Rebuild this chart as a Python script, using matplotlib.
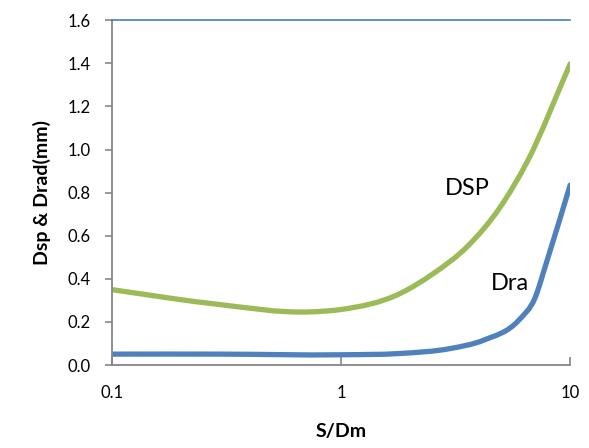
import matplotlib
matplotlib.use("Agg")
import matplotlib.pyplot as plt
import numpy as np
from matplotlib.path import Path
from matplotlib.patches import PathPatch
from matplotlib.ticker import FixedLocator, FixedFormatter, NullLocator

plt.rcParams['font.family'] = ['Lato', 'DejaVu Sans']

# Data
dsp_x = [0.1, 0.27, 0.74, 1.0, 1.81, 2.53, 3.55, 4.96, 6.49, 10.0]
dsp_y = [0.35, 0.286, 0.247, 0.258, 0.332, 0.425, 0.549, 0.734, 0.943, 1.397]

dra_x = [0.1, 0.3, 1.0, 1.81, 3.0, 4.2, 6.0, 7.0, 7.94, 10.0]
dra_y = [0.051, 0.051, 0.048, 0.054, 0.077, 0.116, 0.211, 0.308, 0.487, 0.835]

xticks = [0.1, 1, 10]
xtick_labels = ["0.1", "1", "10"]
yticks = [0.0, 0.2, 0.4, 0.6, 0.8, 1.0, 1.2, 1.4, 1.6]
ytick_labels = ["0.0", "0.2", "0.4", "0.6", "0.8", "1.0", "1.2", "1.4", "1.6"]


def smooth_path(xs, ys):
    """Smoothed line style: cubic Bezier (Hermite) segments passing through the
    data points; tangents estimated in log-x space. Data are not altered."""
    lx = np.log10(np.asarray(xs, float))
    y = np.asarray(ys, float)
    n = len(lx)
    h = np.diff(lx)
    d = np.diff(y) / h
    m = np.empty(n)
    m[0] = d[0]
    m[-1] = d[-1]
    for i in range(1, n - 1):
        m[i] = (d[i - 1] * h[i] + d[i] * h[i - 1]) / (h[i - 1] + h[i])
    verts = [(lx[0], y[0])]
    codes = [Path.MOVETO]
    for i in range(n - 1):
        hh = h[i] / 3.0
        verts += [(lx[i] + hh, y[i] + m[i] * hh),
                  (lx[i + 1] - hh, y[i + 1] - m[i + 1] * hh),
                  (lx[i + 1], y[i + 1])]
        codes += [Path.CURVE4] * 3
    V = np.array(verts)
    V[:, 0] = 10 ** V[:, 0]
    return Path(V, codes)


fig = plt.figure(figsize=(5.89, 4.48), dpi=100)
ax = fig.add_axes([0.190, 0.185, 0.778, 0.770])

green = "#9bbb59"
blue = "#4f81bd"
ax.set_xscale('log')
ax.add_patch(PathPatch(smooth_path(dsp_x, dsp_y), fill=False, edgecolor=green, lw=3.8,
                       capstyle='round', joinstyle='round'))
ax.add_patch(PathPatch(smooth_path(dra_x, dra_y), fill=False, edgecolor=blue, lw=3.8,
                       capstyle='round', joinstyle='round'))

ax.set_xlim(0.1, 10)
ax.set_ylim(0, 1.6)
ax.xaxis.set_major_locator(FixedLocator(xticks))
ax.xaxis.set_major_formatter(FixedFormatter(xtick_labels))
ax.xaxis.set_minor_locator(NullLocator())
ax.set_yticks(yticks)
ax.set_yticklabels(ytick_labels)

for s in ['left', 'bottom']:
    ax.spines[s].set_color('#868686')
    ax.spines[s].set_linewidth(1.3)
ax.spines['right'].set_visible(False)
ax.spines['top'].set_color('#4a7ebb')
ax.spines['top'].set_linewidth(1.2)

ax.tick_params(axis='y', direction='out', length=5, width=1.2, color='#868686',
               labelsize=12, pad=10)
ax.tick_params(axis='x', direction='in', length=6, width=1.2, color='#868686',
               labelsize=12, pad=14)

ax.set_xlabel("S/Dm", fontsize=14, fontweight='bold', labelpad=16)
ax.set_ylabel("Dsp & Drad(mm)", fontsize=14, fontweight='bold', labelpad=12)

ax.text(2.85, 0.82, "DSP", fontsize=17, va='center', ha='left')
ax.text(4.49, 0.38, "Dra", fontsize=17, va='center', ha='left')

fig.savefig("out.png", dpi=100)
